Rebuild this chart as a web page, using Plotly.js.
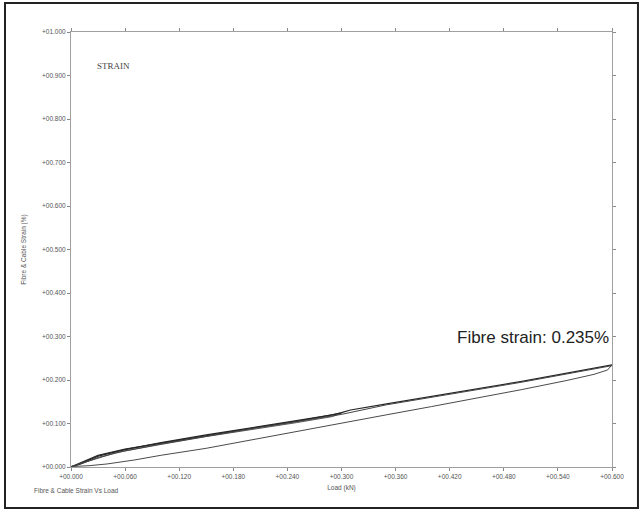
<!DOCTYPE html>
<html>
<head>
<meta charset="utf-8">
<script src="https://cdn.plot.ly/plotly-3.0.1.min.js"></script>
<style>
  html, body { margin: 0; padding: 0; background: #fff; }
  #chart { width: 644px; height: 514px; }
</style>
</head>
<body>
<div id="chart"></div>
<script>
// Cycle 1: load to 0.3 kN and back
const c1UpLoad   = [0, 0.01, 0.03, 0.06, 0.10, 0.15, 0.20, 0.25, 0.29, 0.30];
const c1UpStrain = [0, 0.009, 0.027, 0.041, 0.055, 0.073, 0.089, 0.105, 0.119, 0.124];
const c1DnLoad   = [0.30, 0.29, 0.25, 0.20, 0.15, 0.10, 0.06, 0.03, 0.01, 0];
const c1DnStrain = [0.124, 0.116, 0.102, 0.086, 0.070, 0.052, 0.037, 0.022, 0.006, 0.001];
// Cycle 2: load to 0.6 kN
const c2UpLoad   = [0, 0.01, 0.03, 0.06, 0.10, 0.15, 0.20, 0.25, 0.29, 0.30, 0.31, 0.35, 0.40, 0.45, 0.50, 0.55, 0.60];
const c2UpStrain = [0, 0.007, 0.025, 0.040, 0.056, 0.074, 0.090, 0.106, 0.120, 0.125, 0.131, 0.145, 0.162, 0.179, 0.197, 0.216, 0.235];
// Cycle 2: unloading from 0.6 kN
const c2DnLoad   = [0.60, 0.595, 0.58, 0.55, 0.50, 0.45, 0.40, 0.35, 0.30, 0.25, 0.20, 0.15, 0.10, 0.07, 0.04, 0.02, 0];
const c2DnStrain = [0.235, 0.223, 0.213, 0.199, 0.178, 0.158, 0.139, 0.120, 0.101, 0.082, 0.062, 0.043, 0.027, 0.016, 0.007, 0.003, 0.001];
// Cycle 3: reload
const c3UpLoad   = [0, 0.02, 0.05, 0.10, 0.15, 0.20, 0.25, 0.30, 0.35, 0.40, 0.45, 0.50, 0.55, 0.60];
const c3UpStrain = [0.001, 0.014, 0.033, 0.053, 0.071, 0.088, 0.104, 0.121, 0.143, 0.160, 0.177, 0.195, 0.214, 0.233];

const xTicks = [0, 0.06, 0.12, 0.18, 0.24, 0.30, 0.36, 0.42, 0.48, 0.54, 0.60];
const xTickText = ['+00.000', '+00.060', '+00.120', '+00.180', '+00.240', '+00.300', '+00.360', '+00.420', '+00.480', '+00.540', '+00.600'];
const yTicks = [0, 0.1, 0.2, 0.3, 0.4, 0.5, 0.6, 0.7, 0.8, 0.9, 1.0];
const yTickText = ['+00.000', '+00.100', '+00.200', '+00.300', '+00.400', '+00.500', '+00.600', '+00.700', '+00.800', '+00.900', '+01.000'];

const lineStyle = {color: '#262626', width: 1.2};
const traces = [
  {x: c1UpLoad, y: c1UpStrain, mode: 'lines', line: lineStyle},
  {x: c1DnLoad, y: c1DnStrain, mode: 'lines', line: {color: '#555', width: 1}},
  {x: c2UpLoad, y: c2UpStrain, mode: 'lines', line: lineStyle},
  {x: c2DnLoad, y: c2DnStrain, mode: 'lines', line: {color: '#4a4a4a', width: 1}},
  {x: c3UpLoad, y: c3UpStrain, mode: 'lines', line: {color: '#444', width: 1}}
];

const tickFont = {family: 'Liberation Sans, Arial, sans-serif', size: 6.5, color: '#555'};
const layout = {
  width: 644, height: 514,
  margin: {l: 71, r: 32, t: 32, b: 47, pad: 0},
  paper_bgcolor: '#fff', plot_bgcolor: '#fff',
  showlegend: false,
  xaxis: {
    range: [0, 0.6], tickvals: xTicks, ticktext: xTickText, tickmode: 'array',
    showgrid: false, zeroline: false, showline: true, linecolor: '#a0a0a0', linewidth: 1,
    mirror: 'ticks', ticks: 'outside', ticklen: 3, tickcolor: '#888',
    tickfont: tickFont,
    title: {text: 'Load (kN)', font: tickFont, standoff: 6}
  },
  yaxis: {
    range: [0, 1.0], tickvals: yTicks, ticktext: yTickText, tickmode: 'array',
    showgrid: false, zeroline: false, showline: true, linecolor: '#a0a0a0', linewidth: 1,
    mirror: 'ticks', ticks: 'outside', ticklen: 3, tickcolor: '#888',
    tickfont: tickFont,
    title: {text: 'Fibre & Cable Strain (%)', font: tickFont, standoff: 14}
  },
  annotations: [
    {text: 'STRAIN', xref: 'paper', yref: 'paper', x: 0.044, y: 0.922, xanchor: 'left', yanchor: 'middle',
     showarrow: false, font: {family: 'Liberation Serif, Times New Roman, serif', size: 9, color: '#444'}},
    {text: 'Fibre strain: 0.235%', xref: 'x', yref: 'y', x: 0.599, y: 0.297, xanchor: 'right', yanchor: 'middle',
     showarrow: false, font: {family: 'Liberation Sans, Arial, sans-serif', size: 17, color: '#222'}},
    {text: 'Fibre & Cable Strain Vs Load', xref: 'paper', yref: 'paper', x: -0.072, y: -0.053, xanchor: 'left', yanchor: 'middle',
     showarrow: false, font: tickFont}
  ],
  shapes: [
    {type: 'rect', xref: 'paper', yref: 'paper', x0: -0.122, x1: 1.048, y0: -0.0943, y1: 1.0667,
     line: {color: '#222', width: 2}}
  ]
};

Plotly.newPlot('chart', traces, layout, {displayModeBar: false, staticPlot: true});
</script>
</body>
</html>
